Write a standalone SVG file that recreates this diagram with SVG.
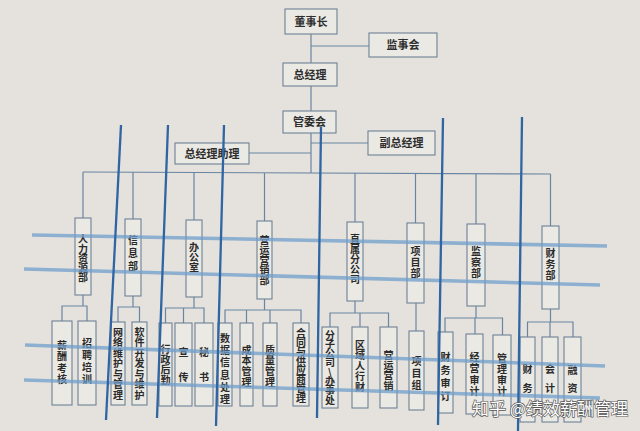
<svg xmlns="http://www.w3.org/2000/svg" width="640" height="431" viewBox="0 0 640 431">
<style>
.bg{fill:#e5e2dd}
.box{fill:#ebe9e4;stroke:#6e8196;stroke-width:1.1}
.con{stroke:#6985a2;stroke-width:1.2;fill:none}
.t{font-family:"Noto Sans CJK SC","Noto Sans",sans-serif;font-size:11px;font-weight:bold;fill:#2e2e2e;text-anchor:middle}
.v{font-family:"Noto Sans CJK SC","Noto Sans",sans-serif;font-size:10px;font-weight:bold;fill:#2a2a2a;text-anchor:middle}
.bv{stroke:#2f65a3;stroke-width:2.3;fill:none}
.bh{stroke:#6f9dcb;stroke-width:3.6;fill:none;opacity:0.75}
.wm{font-family:"Noto Sans CJK SC","Noto Sans",sans-serif;font-size:17px;fill:#ffffff;stroke:#555555;stroke-width:1.3;paint-order:stroke;text-anchor:start}
</style>
<rect class="bg" x="0" y="0" width="640" height="431"/>

<g id="connectors">
  <line class="con" x1="311" y1="34" x2="311" y2="63"/>
  <line class="con" x1="311" y1="46" x2="369" y2="46"/>
  <line class="con" x1="311" y1="86" x2="311" y2="111"/>
  <line class="con" x1="311" y1="133" x2="311" y2="173"/>
  <line class="con" x1="311" y1="143" x2="368" y2="143"/>
  <line class="con" x1="249" y1="153" x2="311" y2="153"/>
  <line class="con" x1="83" y1="172" x2="550.5" y2="174"/>
  <line class="con" x1="83" y1="172" x2="83" y2="218"/>
  <line class="con" x1="133" y1="172" x2="133" y2="219"/>
  <line class="con" x1="194" y1="172" x2="194" y2="220"/>
  <line class="con" x1="264.5" y1="173" x2="264.5" y2="221"/>
  <line class="con" x1="355" y1="173" x2="355" y2="222"/>
  <line class="con" x1="415.5" y1="173" x2="415.5" y2="223"/>
  <line class="con" x1="476" y1="174" x2="476" y2="224"/>
  <line class="con" x1="550.5" y1="174" x2="550.5" y2="226"/>
  <polyline class="con" points="83,295 83,306"/>
  <polyline class="con" points="62,321 62,306 87,306 87,321"/>
  <polyline class="con" points="133,296 133,307"/>
  <polyline class="con" points="118,322 118,307 139.5,307 139.5,322"/>
  <polyline class="con" points="194,297 194,308"/>
  <polyline class="con" points="165.5,323 165.5,308 204,308 204,323"/>
  <line class="con" x1="183.5" y1="308" x2="183.5" y2="323"/>
  <polyline class="con" points="264.5,299 264.5,310"/>
  <polyline class="con" points="225,323 225,310 301,310 301,323"/>
  <line class="con" x1="246.5" y1="310" x2="246.5" y2="323"/>
  <line class="con" x1="270" y1="310" x2="270" y2="323"/>
  <polyline class="con" points="355,301 355,313"/>
  <polyline class="con" points="330,327 330,313 388.5,313 388.5,327"/>
  <line class="con" x1="360" y1="313" x2="360" y2="327"/>
  <line class="con" x1="416" y1="303" x2="416" y2="331"/>
  <polyline class="con" points="476,306 476,318"/>
  <polyline class="con" points="445,332 445,318 502.5,318 502.5,335"/>
  <line class="con" x1="475" y1="318" x2="475" y2="334"/>
  <polyline class="con" points="550.5,309 550.5,322"/>
  <polyline class="con" points="527.5,337 527.5,322 573,322 573,337"/>
  <line class="con" x1="550" y1="322" x2="550" y2="337"/>
</g>

<g id="dongshizhang"><rect class="box" x="285" y="9" width="52" height="25"/><text class="t" x="311" y="25.5">董事长</text></g>
<g id="jianshihui"><rect class="box" x="369" y="33" width="68" height="24"/><text class="t" x="403" y="49">监事会</text></g>
<g id="zongjingli"><rect class="box" x="283" y="63" width="54" height="23"/><text class="t" x="310" y="78.5">总经理</text></g>
<g id="guanweihui"><rect class="box" x="283" y="111" width="53" height="22"/><text class="t" x="309.5" y="126">管委会</text></g>
<g id="fuzongjingli"><rect class="box" x="368" y="131" width="67" height="24"/><text class="t" x="401.5" y="147">副总经理</text></g>
<g id="zongjinglizhuli"><rect class="box" x="175" y="143" width="74" height="21"/><text class="t" x="212" y="157.5">总经理助理</text></g>

<g id="renliziyuanbu"><rect class="box" x="75" y="218" width="16" height="77"/><text class="v" x="83 83 83 83 83" y="243 252.5 262 271.5 281">人力资源部</text></g>
<g id="xinxibu"><rect class="box" x="125" y="219" width="16" height="77"/><text class="v" x="133 133 133" y="243.5 256.5 269.5">信息部</text></g>
<g id="bangongshi"><rect class="box" x="186" y="220" width="16" height="77"/><text class="v" x="194 194 194" y="250.5 260.5 270.5">办公室</text></g>
<g id="yingyunyingxiaobu"><rect class="box" x="257" y="221" width="15" height="78"/><text class="v" x="264.5 264.5 264.5 264.5 264.5" y="243.5 253.5 263.5 273.5 284">营运营销部</text></g>
<g id="zhishufengongsi"><rect class="box" x="347" y="222" width="16" height="79"/><text class="v" x="355 355 355 355 355" y="242.5 252.5 262.5 272.5 282.5">直属分公司</text></g>
<g id="xiangmubu"><rect class="box" x="407" y="223" width="17" height="80"/><text class="v" x="415.5 415.5 415.5" y="254.5 265.5 276.5">项目部</text></g>
<g id="jianchabu"><rect class="box" x="467" y="224" width="18" height="82"/><text class="v" x="476 476 476" y="254.5 265.5 276.5">监察部</text></g>
<g id="caiwubu"><rect class="box" x="542" y="226" width="17" height="83"/><text class="v" x="550.5 550.5 550.5" y="256.5 267.5 278.5">财务部</text></g>

<g id="xinchoukaohe"><rect class="box" x="52" y="321" width="20" height="84"/><text class="v" x="62 62 62 62" y="348.5 360 371.5 383">薪酬考核</text></g>
<g id="zhaopinpeixun"><rect class="box" x="78" y="321" width="18" height="84"/><text class="v" x="87 87 87 87" y="346.5 358.5 370.5 382.5">招聘培训</text></g>
<g id="wangluoweihu"><rect class="box" x="111" y="322" width="14" height="83"/><text class="v" x="118 118 118 118 118 118 118" y="335.5 346 356.5 367 377.5 388 399">网络维护与管理</text></g>
<g id="ruanjiankaifa"><rect class="box" x="132" y="322" width="15" height="83"/><text class="v" x="139.5 139.5 139.5 139.5 139.5 139.5 139.5" y="335.5 346 356.5 367 377.5 388 399">软件开发与维护</text></g>
<g id="xingzhenghouqin"><rect class="box" x="159" y="323" width="13" height="83"/><text class="v" x="165.5 165.5 165.5 165.5" y="352.5 363 373 383.5">行政后勤</text></g>
<g id="xuanchuan"><rect class="box" x="175" y="323" width="17" height="83"/><text class="v" x="183.5 183.5" y="355.5 380.5">宣传</text></g>
<g id="mishu"><rect class="box" x="195" y="323" width="18" height="83"/><text class="v" x="204 204" y="355.5 380.5">秘书</text></g>
<g id="shujuxinxi"><rect class="box" x="218" y="323" width="14" height="83"/><text class="v" x="225 225 225 225 225 225" y="341.5 353.5 366 378.5 391 403">数据信息处理</text></g>
<g id="chengbenguanli"><rect class="box" x="240" y="323" width="13" height="83"/><text class="v" x="246.5 246.5 246.5 246.5" y="353.5 364 374.5 385.5">成本管理</text></g>
<g id="zhiliangguanli"><rect class="box" x="263" y="323" width="14" height="83"/><text class="v" x="270 270 270 270" y="353.5 364 374.5 385.5">质量管理</text></g>
<g id="hetong"><rect class="box" x="293" y="323" width="16" height="83"/><text class="v" x="301 301 301 301 301 301 301 301" y="336.5 346 355 364.5 373.5 383 392 401.5">合同与供应商管理</text></g>
<g id="fenzigongsi"><rect class="box" x="322" y="327" width="16" height="81"/><text class="v" x="330 330 330 330 330 330 330 330" y="338.5 347.5 357 366 375.5 385 394 403.5">分子公司\办事处</text></g>
<g id="quyurenxingcai"><rect class="box" x="352" y="327" width="16" height="81"/><text class="v" x="360 360 360 360 360" y="348.5 359 369.5 380 390.5">区域人行财</text></g>
<g id="yingyunyingxiao"><rect class="box" x="380" y="327" width="17" height="81"/><text class="v" x="388.5 388.5 388.5 388.5" y="358.5 369 379 389.5">营运营销</text></g>
<g id="xiangmuzu"><rect class="box" x="409" y="331" width="15" height="79"/><text class="v" x="416.5 416.5 416.5" y="364.5 376.5 388.5">项目组</text></g>
<g id="caiwushending"><rect class="box" x="438" y="332" width="15" height="81"/><text class="v" x="445.5 445.5 445.5 445.5" y="360.5 373.5 386.5 399.5">财务审订</text></g>
<g id="jingyingshenji"><rect class="box" x="466" y="334" width="17" height="80"/><text class="v" x="474.5 474.5 474.5 474.5" y="360.5 372 383.5 395">经营审计</text></g>
<g id="guanlishenji"><rect class="box" x="493" y="335" width="18" height="80"/><text class="v" x="502 502 502 502" y="361.5 372.5 383.5 394.5">管理审计</text></g>
<g id="caiwu"><rect class="box" x="520" y="337" width="15" height="85"/><text class="v" x="527.5 527.5" y="372.5 391.5">财务</text></g>
<g id="kuaiji"><rect class="box" x="542" y="337" width="16" height="85"/><text class="v" x="550 550" y="372.5 391.5">会计</text></g>
<g id="rongzi"><rect class="box" x="564" y="337" width="17" height="85"/><text class="v" x="572.5 572.5" y="373.5 391.5">融资</text></g>

<g id="overlay">
  <line class="bh" x1="32" y1="235" x2="607" y2="246"/>
  <line class="bh" x1="24" y1="269" x2="600" y2="285"/>
  <line class="bh" x1="25" y1="345" x2="605" y2="366"/>
  <line class="bh" x1="24" y1="380" x2="600" y2="398"/>
  <line class="bv" x1="121" y1="125" x2="106" y2="420"/>
  <line class="bv" x1="168" y1="125" x2="157" y2="418"/>
  <line class="bv" x1="224" y1="125" x2="216" y2="426"/>
  <line class="bv" x1="321" y1="127" x2="317" y2="418"/>
  <line class="bv" x1="443" y1="118" x2="438" y2="425"/>
  <line class="bv" x1="522" y1="117" x2="518" y2="431"/>
</g>

<text class="wm" x="472" y="415">知乎 @绩效薪酬管理</text>
</svg>
